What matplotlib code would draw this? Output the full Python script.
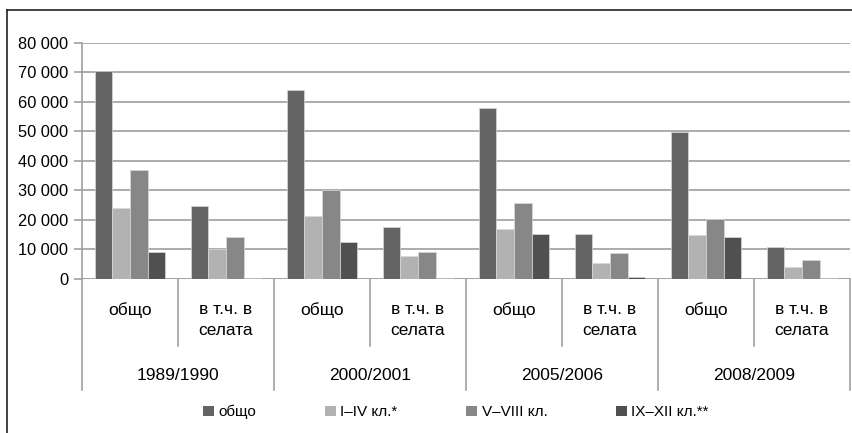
import numpy as np
import matplotlib.pyplot as plt
from matplotlib.lines import Line2D
from matplotlib.patches import Patch

plt.rcParams['font.family'] = ['Liberation Sans', 'DejaVu Sans']

# School years and the two sub-groups shown under each year
years = ["1989/1990", "2000/2001", "2005/2006", "2008/2009"]
subgroups = ["общо", "в т.ч. в\nселата"]

series_names = ["общо", "I–IV кл.*", "V–VIII кл.", "IX–XII кл.**"]
series_colors = ["#646464", "#b2b2b2", "#878787", "#505050"]

# Values per category: year x (общо, в т.ч. в селата)
total = [70500, 24700, 63900, 17500, 58000, 15200, 49700, 10900]
grades_1_4 = [24000, 10200, 21300, 7700, 16800, 5500, 14800, 3900]
grades_5_8 = [36900, 14300, 30000, 9100, 25600, 8800, 20300, 6300]
grades_9_12 = [9300, 500, 12500, 400, 15400, 700, 14300, 500]

series = [total, grades_1_4, grades_5_8, grades_9_12]

fig = plt.figure(figsize=(8.53, 4.33), dpi=100)
ax = fig.add_axes([82 / 853, 1 - 279 / 433, 768 / 853, (279 - 42.7) / 433])

n_cat = len(total)
x = np.arange(n_cat)
width = 0.73 / 4
for i, (vals, col) in enumerate(zip(series, series_colors)):
    ax.bar(x - 0.365 + width * (i + 0.5), vals, width, color=col,
           edgecolor="#d8d8d8", linewidth=0.5, zorder=3, label=series_names[i])

ax.set_xlim(-0.5, n_cat - 0.5)
ax.set_ylim(0, 80000)
ax.set_yticks(np.arange(0, 80001, 10000))
ax.set_yticklabels([f"{v:,}".replace(",", " ") for v in range(0, 80001, 10000)],
                   fontsize=11.8)
ax.tick_params(axis="y", length=6, color="#a0a0a0", width=1.2, pad=4)
ax.set_xticks([])
ax.grid(axis="y", color="#a6a6a6", linewidth=1.3, zorder=0)
for side in ["top", "right", "bottom"]:
    ax.spines[side].set_visible(False)
ax.spines["left"].set_color("#a0a0a0")
ax.spines["left"].set_linewidth(1.2)

# Category separators and labels under the axis
trans = ax.get_xaxis_transform()
ax.axhline(0, color="#a0a0a0", linewidth=1.3, zorder=2)
px = 1 / (279 - 42.7)
for k in range(n_cat + 1):
    xb = k - 0.5
    depth = 111 if k % 2 == 0 else 67
    ax.plot([xb, xb], [0, -depth * px], transform=trans, color="#a0a0a0",
            linewidth=1.2, clip_on=False)

for k in range(n_cat):
    label = subgroups[k % 2]
    y = -31 * px if k % 2 == 0 else -41 * px
    ax.text(k, y, label, transform=trans, ha="center", va="center",
            fontsize=12.5, linespacing=1.45)
for j, yr in enumerate(years):
    ax.text(2 * j + 0.5, -96 * px, yr, transform=trans, ha="center",
            va="center", fontsize=12.5)

# Legend at the bottom
handles = [Patch(facecolor=c, edgecolor="none") for c in series_colors]
fig.legend(handles, series_names, loc="center", ncol=4,
           bbox_to_anchor=(456 / 853, 1 - 412 / 433), frameon=False,
           fontsize=11, handlelength=0.7, handleheight=0.7,
           handletextpad=0.3, columnspacing=4.5)

# Outer chart frame
fig.add_artist(Line2D([7 / 853, 7 / 853], [0, 1 - 10 / 433], color="#222222",
                      linewidth=1.2, transform=fig.transFigure))
fig.add_artist(Line2D([7 / 853, 1], [1 - 10 / 433, 1 - 10 / 433], color="#222222",
                      linewidth=1.2, transform=fig.transFigure))

fig.savefig("out.png", dpi=100)
